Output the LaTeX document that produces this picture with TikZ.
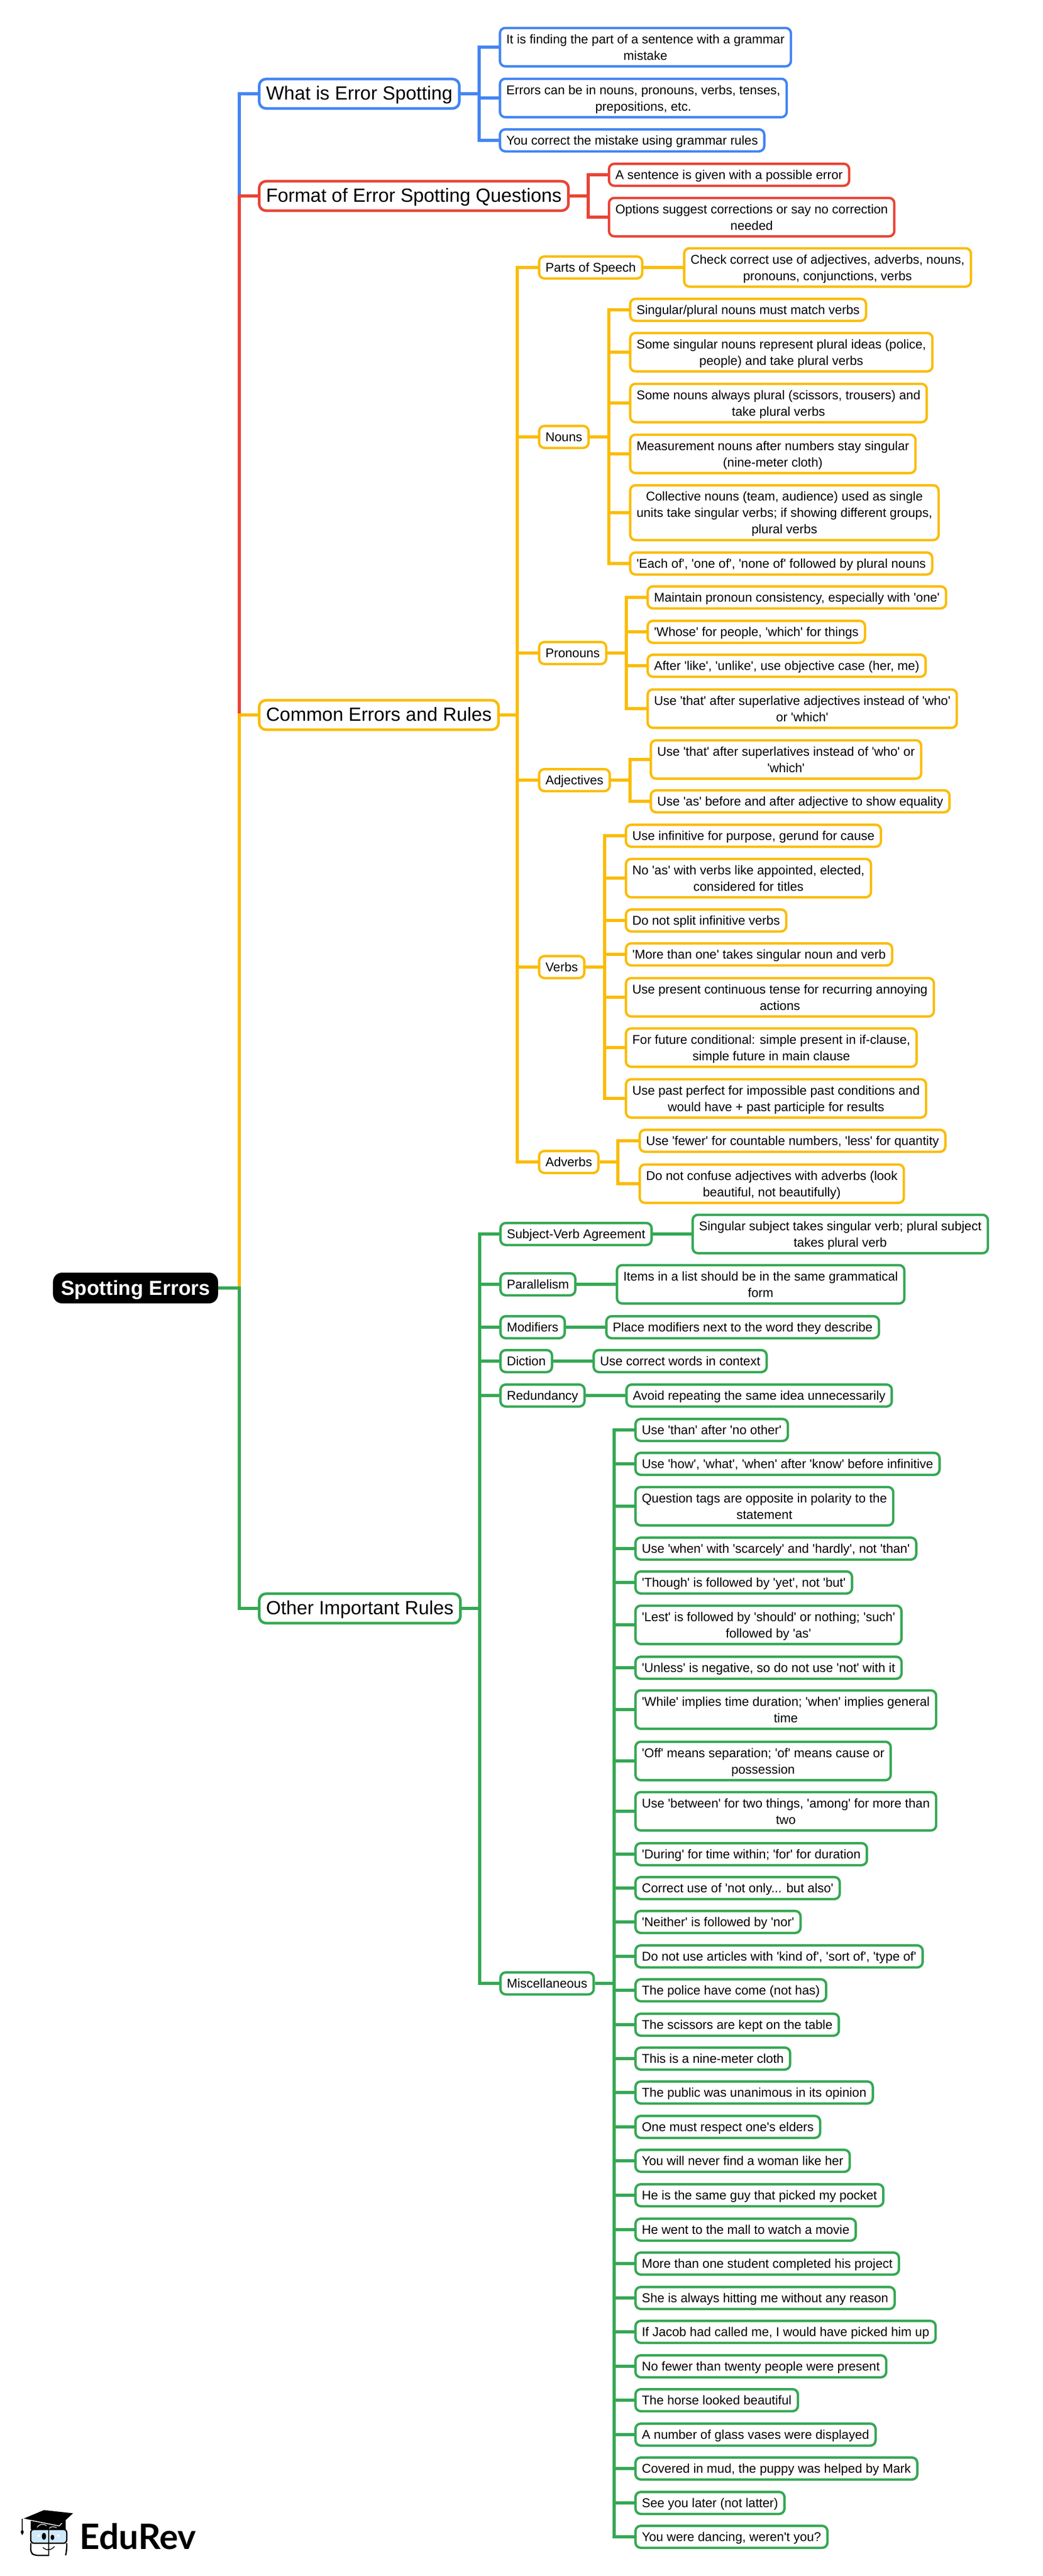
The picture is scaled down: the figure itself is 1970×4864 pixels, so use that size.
\documentclass[tikz,border=0pt]{standalone}
\usepackage{fontspec}
\newfontfamily\mapfont{Liberation Sans}
\newfontfamily\logofont{Lato}
\definecolor{gblue}{HTML}{4285F4}
\definecolor{gred}{HTML}{EA4335}
\definecolor{gyellow}{HTML}{FBBC04}
\definecolor{ggreen}{HTML}{34A853}
\definecolor{glass}{HTML}{CFE8FA}
\newcommand{\rs}{\vrule height 24pt depth 7pt width 0pt}
\newcommand{\ts}{\vrule height 35pt depth 12pt width 0pt}
\begin{document}
\begin{tikzpicture}[x=1pt, y=-1pt,
  root/.style = {fill=black, text=white, rounded corners=17pt, anchor=west, inner xsep=15pt, inner ysep=2.5pt, font=\mapfont\bfseries\fontsize{38.4}{47}\selectfont},
  topic/.style = {draw, fill=white, line width=5pt, rounded corners=13pt, anchor=west, inner xsep=13pt, inner ysep=4.3pt, font=\mapfont\fontsize{36}{47}\selectfont},
  leaf/.style = {draw, fill=white, line width=4.5pt, rounded corners=10pt, anchor=west, align=center, inner xsep=12pt, inner ysep=5.25pt, font=\mapfont\fontsize{24}{31}\selectfont},
  wire/.style = {line width=6pt}]
\useasboundingbox (0,0) rectangle (1970,4864);

%% root and main topics
\node[root] (spot) at (100,2432) {\vrule height 40pt depth 13pt width 0pt Spotting Errors};
\node[topic, draw=gblue] (what) at (487,177) {\ts What is Error Spotting};
\node[topic, draw=gred] (format) at (487,370) {\ts Format of Error Spotting Questions};
\node[topic, draw=gyellow] (common) at (487,1350) {\ts Common Errors and Rules};
\node[topic, draw=ggreen] (other) at (487,3037) {\ts Other Important Rules};

%% what is error spotting
\node[leaf, draw=gblue] (what1) at (942,89) {\rs It is finding the part of a sentence with a grammar\\mistake\rs};
\node[leaf, draw=gblue] (what2) at (942,185) {\rs Errors can be in nouns, pronouns, verbs, tenses,\\prepositions, etc.\rs};
\node[leaf, draw=gblue] (what3) at (942,265) {\rs You correct the mistake using grammar rules};

%% format
\node[leaf, draw=gred] (format1) at (1148,330) {\rs A sentence is given with a possible error};
\node[leaf, draw=gred] (format2) at (1148,410) {\rs Options suggest corrections or say no correction\\needed\rs};

%% common errors
\node[leaf, draw=gyellow] (parts) at (1016,505) {\rs Parts of Speech};
\node[leaf, draw=gyellow] (nouns) at (1016,825) {\rs Nouns};
\node[leaf, draw=gyellow] (pronouns) at (1016,1233) {\rs Pronouns};
\node[leaf, draw=gyellow] (adjectives) at (1016,1473) {\rs Adjectives};
\node[leaf, draw=gyellow] (verbs) at (1016,1826) {\rs Verbs};
\node[leaf, draw=gyellow] (adverbs) at (1016,2194) {\rs Adverbs};

\node[leaf, draw=gyellow] (parts1) at (1290,505) {\rs Check correct use of adjectives, adverbs, nouns,\\pronouns, conjunctions, verbs\rs};

\node[leaf, draw=gyellow] (nouns1) at (1188,585) {\rs Singular/plural nouns must match verbs};
\node[leaf, draw=gyellow] (nouns2) at (1188,665) {\rs Some singular nouns represent plural ideas (police,\\people) and take plural verbs\rs};
\node[leaf, draw=gyellow] (nouns3) at (1188,761) {\rs Some nouns always plural (scissors, trousers) and\\take plural verbs\rs};
\node[leaf, draw=gyellow] (nouns4) at (1188,857) {\rs Measurement nouns after numbers stay singular\\(nine-meter cloth)\rs};
\node[leaf, draw=gyellow] (nouns5) at (1188,968) {\rs Collective nouns (team, audience) used as single\\units take singular verbs; if showing different groups,\\plural verbs\rs};
\node[leaf, draw=gyellow] (nouns6) at (1188,1064) {\rs 'Each of', 'one of', 'none of' followed by plural nouns};

\node[leaf, draw=gyellow] (pronouns1) at (1221,1128) {\rs Maintain pronoun consistency, especially with 'one'};
\node[leaf, draw=gyellow] (pronouns2) at (1221,1193) {\rs 'Whose' for people, 'which' for things};
\node[leaf, draw=gyellow] (pronouns3) at (1221,1257) {\rs After 'like', 'unlike', use objective case (her, me)};
\node[leaf, draw=gyellow] (pronouns4) at (1221,1338) {\rs Use 'that' after superlative adjectives instead of 'who'\\or 'which'\rs};

\node[leaf, draw=gyellow] (adjectives1) at (1227,1434) {\rs Use 'that' after superlatives instead of 'who' or\\'which'\rs};
\node[leaf, draw=gyellow] (adjectives2) at (1227,1513) {\rs Use 'as' before and after adjective to show equality};

\node[leaf, draw=gyellow] (verbs1) at (1180,1578) {\rs Use infinitive for purpose, gerund for cause};
\node[leaf, draw=gyellow] (verbs2) at (1180,1658) {\rs No 'as' with verbs like appointed, elected,\\considered for titles\rs};
\node[leaf, draw=gyellow] (verbs3) at (1180,1738) {\rs Do not split infinitive verbs};
\node[leaf, draw=gyellow] (verbs4) at (1180,1802) {\rs 'More than one' takes singular noun and verb};
\node[leaf, draw=gyellow] (verbs5) at (1180,1883) {\rs Use present continuous tense for recurring annoying\\actions\rs};
\node[leaf, draw=gyellow] (verbs6) at (1180,1978) {\rs For future conditional: simple present in if-clause,\\simple future in main clause\rs};
\node[leaf, draw=gyellow] (verbs7) at (1180,2074) {\rs Use past perfect for impossible past conditions and\\would have + past participle for results\rs};

\node[leaf, draw=gyellow] (adverbs1) at (1206,2154) {\rs Use 'fewer' for countable numbers, 'less' for quantity};
\node[leaf, draw=gyellow] (adverbs2) at (1206,2235) {\rs Do not confuse adjectives with adverbs (look\\beautiful, not beautifully)\rs};

%% other rules
\node[leaf, draw=ggreen] (agree) at (943,2330) {\rs Subject-Verb Agreement};
\node[leaf, draw=ggreen] (parallel) at (943,2425) {\rs Parallelism};
\node[leaf, draw=ggreen] (modifiers) at (943,2506) {\rs Modifiers};
\node[leaf, draw=ggreen] (diction) at (943,2570) {\rs Diction};
\node[leaf, draw=ggreen] (redundancy) at (943,2635) {\rs Redundancy};
\node[leaf, draw=ggreen] (misc) at (943,3745) {\rs Miscellaneous};

\node[leaf, draw=ggreen] (agree1) at (1306,2330) {\rs Singular subject takes singular verb; plural subject\\takes plural verb\rs};
\node[leaf, draw=ggreen] (parallel1) at (1163,2425) {\rs Items in a list should be in the same grammatical\\form\rs};
\node[leaf, draw=ggreen] (modifiers1) at (1143,2506) {\rs Place modifiers next to the word they describe};
\node[leaf, draw=ggreen] (diction1) at (1119,2570) {\rs Use correct words in context};
\node[leaf, draw=ggreen] (redundancy1) at (1181,2635) {\rs Avoid repeating the same idea unnecessarily};

%% miscellaneous
\node[leaf, draw=ggreen] (misc1) at (1198,2700) {\rs Use 'than' after 'no other'};
\node[leaf, draw=ggreen] (misc2) at (1198,2764) {\rs Use 'how', 'what', 'when' after 'know' before infinitive};
\node[leaf, draw=ggreen] (misc3) at (1198,2844) {\rs Question tags are opposite in polarity to the\\statement\rs};
\node[leaf, draw=ggreen] (misc4) at (1198,2924) {\rs Use 'when' with 'scarcely' and 'hardly', not 'than'};
\node[leaf, draw=ggreen] (misc5) at (1198,2988) {\rs 'Though' is followed by 'yet', not 'but'};
\node[leaf, draw=ggreen] (misc6) at (1198,3068) {\rs 'Lest' is followed by 'should' or nothing; 'such'\\followed by 'as'\rs};
\node[leaf, draw=ggreen] (misc7) at (1198,3149) {\rs 'Unless' is negative, so do not use 'not' with it};
\node[leaf, draw=ggreen] (misc8) at (1198,3228) {\rs 'While' implies time duration; 'when' implies general\\time\rs};
\node[leaf, draw=ggreen] (misc9) at (1198,3325) {\rs 'Off' means separation; 'of' means cause or\\possession\rs};
\node[leaf, draw=ggreen] (misc10) at (1198,3420) {\rs Use 'between' for two things, 'among' for more than\\two\rs};
\node[leaf, draw=ggreen] (misc11) at (1198,3501) {\rs 'During' for time within; 'for' for duration};
\node[leaf, draw=ggreen] (misc12) at (1198,3565) {\rs Correct use of 'not only... but also'};
\node[leaf, draw=ggreen] (misc13) at (1198,3629) {\rs 'Neither' is followed by 'nor'};
\node[leaf, draw=ggreen] (misc14) at (1198,3694) {\rs Do not use articles with 'kind of', 'sort of', 'type of'};
\node[leaf, draw=ggreen] (misc15) at (1198,3758) {\rs The police have come (not has)};
\node[leaf, draw=ggreen] (misc16) at (1198,3823) {\rs The scissors are kept on the table};
\node[leaf, draw=ggreen] (misc17) at (1198,3887) {\rs This is a nine-meter cloth};
\node[leaf, draw=ggreen] (misc18) at (1198,3951) {\rs The public was unanimous in its opinion};
\node[leaf, draw=ggreen] (misc19) at (1198,4016) {\rs One must respect one's elders};
\node[leaf, draw=ggreen] (misc20) at (1198,4080) {\rs You will never find a woman like her};
\node[leaf, draw=ggreen] (misc21) at (1198,4145) {\rs He is the same guy that picked my pocket};
\node[leaf, draw=ggreen] (misc22) at (1198,4210) {\rs He went to the mall to watch a movie};
\node[leaf, draw=ggreen] (misc23) at (1198,4274) {\rs More than one student completed his project};
\node[leaf, draw=ggreen] (misc24) at (1198,4339) {\rs She is always hitting me without any reason};
\node[leaf, draw=ggreen] (misc25) at (1198,4403) {\rs If Jacob had called me, I would have picked him up};
\node[leaf, draw=ggreen] (misc26) at (1198,4468) {\rs No fewer than twenty people were present};
\node[leaf, draw=ggreen] (misc27) at (1198,4532) {\rs The horse looked beautiful};
\node[leaf, draw=ggreen] (misc28) at (1198,4597) {\rs A number of glass vases were displayed};
\node[leaf, draw=ggreen] (misc29) at (1198,4661) {\rs Covered in mud, the puppy was helped by Mark};
\node[leaf, draw=ggreen] (misc30) at (1198,4726) {\rs See you later (not latter)};
\node[leaf, draw=ggreen] (misc31) at (1198,4790) {\rs You were dancing, weren't you?};

%% bus points
\coordinate (spotbus) at (452,2432);
\coordinate (whatbus) at (905,177);
\coordinate (formatbus) at (1111,370);
\coordinate (commonbus) at (977,1350);
\coordinate (otherbus) at (906,3037);
\coordinate (nounsbus) at (1150,825);
\coordinate (pronounsbus) at (1183,1233);
\coordinate (adjectivesbus) at (1190,1473);
\coordinate (verbsbus) at (1142,1826);
\coordinate (adverbsbus) at (1167,2194);
\coordinate (miscbus) at (1160,3745);

%%% edges
\draw[wire, gblue] (spot.east) -- (spotbus) |- (what.west);
\draw[wire, gred] (spot.east) -- (spotbus) |- (format.west);
\draw[wire, gyellow] (spot.east) -- (spotbus) |- (common.west);
\draw[wire, ggreen] (spot.east) -- (spotbus) |- (other.west);

\foreach \kid in {what1,what2,what3}
  \draw[wire, gblue] (what.east) -- (whatbus) |- (\kid.west);
\foreach \kid in {format1,format2}
  \draw[wire, gred] (format.east) -- (formatbus) |- (\kid.west);

\foreach \kid in {parts,nouns,pronouns,adjectives,verbs,adverbs}
  \draw[wire, gyellow] (common.east) -- (commonbus) |- (\kid.west);
\draw[wire, gyellow] (parts.east) -- (parts1.west);
\foreach \kid in {nouns1,nouns2,nouns3,nouns4,nouns5,nouns6}
  \draw[wire, gyellow] (nouns.east) -- (nounsbus) |- (\kid.west);
\foreach \kid in {pronouns1,pronouns2,pronouns3,pronouns4}
  \draw[wire, gyellow] (pronouns.east) -- (pronounsbus) |- (\kid.west);
\foreach \kid in {adjectives1,adjectives2}
  \draw[wire, gyellow] (adjectives.east) -- (adjectivesbus) |- (\kid.west);
\foreach \kid in {verbs1,verbs2,verbs3,verbs4,verbs5,verbs6,verbs7}
  \draw[wire, gyellow] (verbs.east) -- (verbsbus) |- (\kid.west);
\foreach \kid in {adverbs1,adverbs2}
  \draw[wire, gyellow] (adverbs.east) -- (adverbsbus) |- (\kid.west);

\foreach \kid in {agree,parallel,modifiers,diction,redundancy,misc}
  \draw[wire, ggreen] (other.east) -- (otherbus) |- (\kid.west);
\foreach \kid in {agree,parallel,modifiers,diction,redundancy}
  \draw[wire, ggreen] (\kid.east) -- (\kid1.west);
\foreach \n in {1,...,31}
  \draw[wire, ggreen] (misc.east) -- (miscbus) |- (misc\n.west);

%% logo
\node[anchor=base west, inner sep=0pt, font=\logofont\bfseries\fontsize{66}{66}\selectfont] (edurev) at (150,4813) {EduRev};
\fill (58,4757) -- (124,4759) -- (124,4776) -- (58,4776) -- cycle;
\fill (43.5,4756) -- (83,4739.5) -- (138,4745.5) -- (112,4769.5) -- cycle;
\draw[white, line width=1.5pt] (43.5,4756) -- (112,4769.5) -- (117,4764);
\draw[white, line width=1.2pt] (70,4772) .. controls (75,4765) and (83,4765) .. (88,4769);
\draw[white, line width=1.2pt] (93,4774) .. controls (96,4770) and (103,4770) .. (107,4773);
\draw[line width=1.5pt] (42,4756) -- (42,4778);
\fill (42,4775) -- (45,4781) -- (42,4787) -- (39,4781) -- cycle;
\draw[line width=2.5pt, fill=glass, rounded corners=6pt] (58,4776) rectangle (126,4802);
\draw[line width=2.5pt, rounded corners=6pt] (92,4825) -- (65,4825) -- (58,4820) -- (58,4802);
\draw[line width=2.5pt, rounded corners=6pt] (126,4802) -- (126,4815) -- (124,4825);
\draw[line width=2.5pt] (92,4775) -- (92,4826);
\fill (83,4789) ellipse (4pt and 6.5pt);
\fill (99,4791) ellipse (3.5pt and 5pt);
\fill[white] (71,4786) rectangle (75,4790);
\fill[white] (108,4786) rectangle (112,4790);
\draw[line width=1.5pt] (81,4810) .. controls (87,4816) and (97,4816) .. (103,4808);
\end{tikzpicture}
\end{document}
